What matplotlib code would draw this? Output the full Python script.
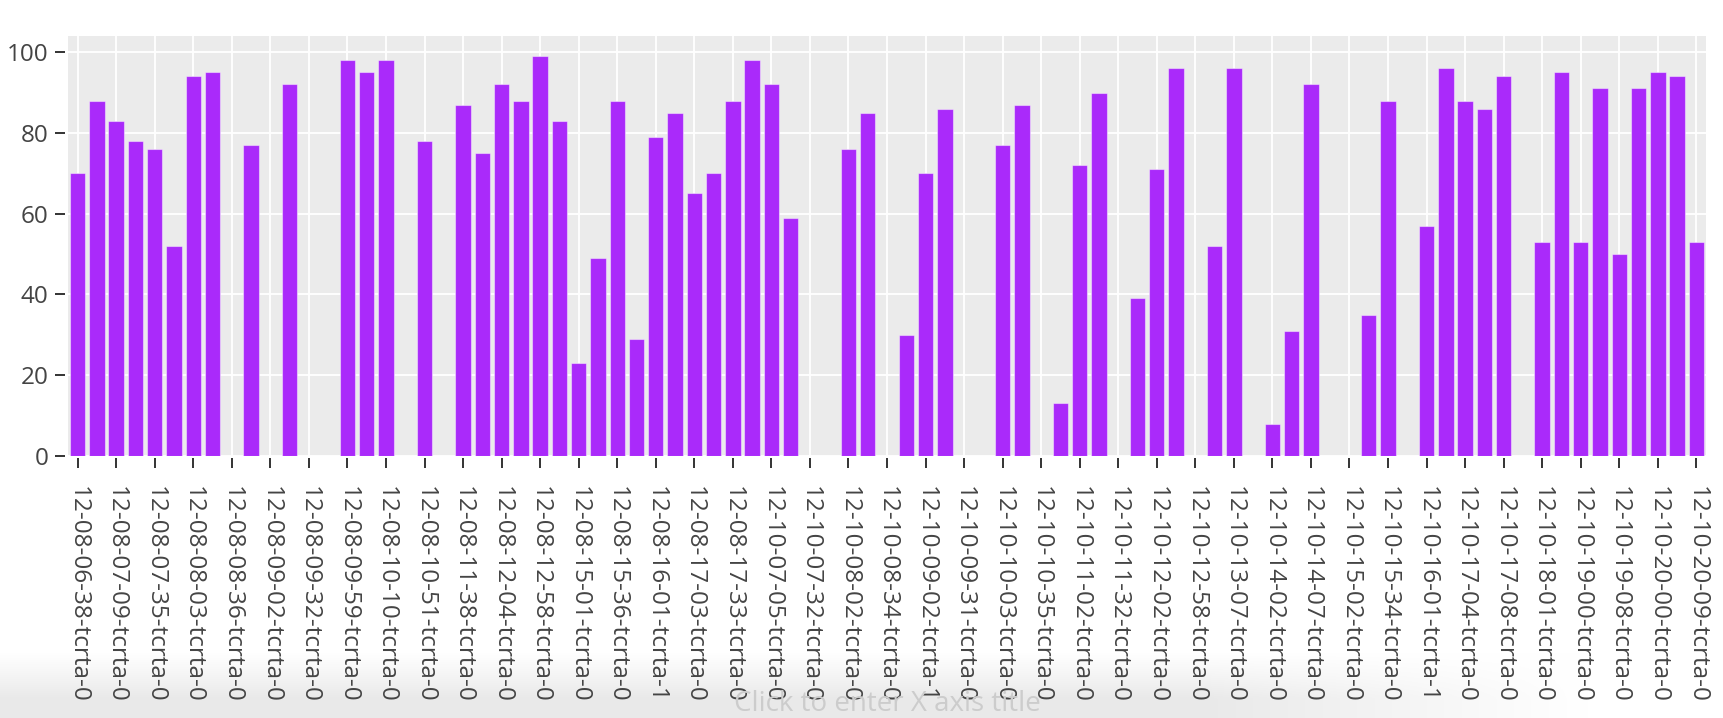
"""Bar chart of scores per run id (plotly-ggplot2 look, redrawn in matplotlib)."""
import numpy as np
import matplotlib
matplotlib.use("Agg")
import matplotlib.pyplot as plt

BAR = "#aa2afa"
PANEL = "#ebebeb"
INK = "#444444"
TICK = "#333333"

plt.rcParams.update({
    "font.family": ["Open Sans", "DejaVu Sans"],
    "font.size": 17.5,
})

# one value per run, None = no bar for that run
values = [
    70, 88, 83, 78, 76, 52, 94, 95, None, 77, None, 92, None, None, 98, 95, 98, None, 78,
    None, 87, 75, 92, 88, 99, 83, 23, 49, 88, 29, 79, 85, 65, 70, 88, 98, 92, 59, None, None, 76, 85,
    None, 30, 70, 86, None, None, 77, 87, None, 13, 72, 90, None, 39, 71, 96, None, 52, 96, None, 8, 31, 92,
    None, None, 35, 88, None, 57, 96, 88, 86, 94, None, 53, 95, 53, 91, 50, 91, 95, 94, 53,
]

# only every second run is labelled on the axis
tick_labels = [
    "12-08-06-38-tcrta-0", "12-08-07-09-tcrta-0", "12-08-07-35-tcrta-0", "12-08-08-03-tcrta-0",
    "12-08-08-36-tcrta-0", "12-08-09-02-tcrta-0", "12-08-09-32-tcrta-0", "12-08-09-59-tcrta-0",
    "12-08-10-10-tcrta-0", "12-08-10-51-tcrta-0", "12-08-11-38-tcrta-0", "12-08-12-04-tcrta-0",
    "12-08-12-58-tcrta-0", "12-08-15-01-tcrta-0", "12-08-15-36-tcrta-0", "12-08-16-01-tcrta-1",
    "12-08-17-03-tcrta-0", "12-08-17-33-tcrta-0", "12-10-07-05-tcrta-0", "12-10-07-32-tcrta-0",
    "12-10-08-02-tcrta-0", "12-10-08-34-tcrta-0", "12-10-09-02-tcrta-1", "12-10-09-31-tcrta-0",
    "12-10-10-03-tcrta-0", "12-10-10-35-tcrta-0", "12-10-11-02-tcrta-0", "12-10-11-32-tcrta-0",
    "12-10-12-02-tcrta-0", "12-10-12-58-tcrta-0", "12-10-13-07-tcrta-0", "12-10-14-02-tcrta-0",
    "12-10-14-07-tcrta-0", "12-10-15-02-tcrta-0", "12-10-15-34-tcrta-0", "12-10-16-01-tcrta-1",
    "12-10-17-04-tcrta-0", "12-10-17-08-tcrta-0", "12-10-18-01-tcrta-0", "12-10-19-00-tcrta-0",
    "12-10-19-08-tcrta-0", "12-10-20-00-tcrta-0", "12-10-20-09-tcrta-0",
]
y_ticks = [0, 20, 40, 60, 80, 100]

W, H = 1724, 718
fig = plt.figure(figsize=(W / 100, H / 100), dpi=100)

# soft grey shadow along the bottom of the screenshot
bg = fig.add_axes([0, 0, 1, 66 / H], zorder=-5)
v = np.linspace(0, 1, 64)[:, None]
v = np.clip(v / 0.7, 0, 1) ** 1.1
h = np.clip((0.92 - np.linspace(0, 1, 400)[None, :]) / 0.22, 0, 1)
shade = 1 - 0.085 * v * h
bg.imshow(np.dstack([shade] * 3), aspect="auto", origin="upper",
          extent=[0, 1, 0, 1], vmin=0, vmax=1)
bg.axis("off")

ax = fig.add_axes([68 / W, 1 - 456 / H, (1706 - 68) / W, (456 - 36) / H], zorder=1)
ax.set_facecolor(PANEL)

x = np.arange(len(values))
heights = np.array([np.nan if v is None else v for v in values], dtype=float)
ax.bar(x, heights, width=0.8, color=BAR, edgecolor=(1, 1, 1, 0.45), linewidth=0.8, zorder=3)

ax.set_xlim(-0.5, len(values) - 0.5)
ax.set_ylim(0, 104)

ax.grid(True, color="white", linewidth=1.3, zorder=0)
ax.set_axisbelow(True)
for side in ("top", "right", "left", "bottom"):
    ax.spines[side].set_visible(False)
for side in ("left", "bottom"):
    ax.spines[side].set_position(("outward", 1.8))
ax.tick_params(axis="x", length=7.5, width=1.4, color=TICK, pad=12,
               labelrotation=-90, labelcolor=INK, labelsize=17.5)
ax.tick_params(axis="y", length=7.5, width=1.4, color=TICK, pad=5,
               labelcolor=INK, labelsize=17.5)

ax.set_xticks(x[::2])
ax.set_xticklabels(tick_labels)
ax.set_yticks(y_ticks)
ax.set_yticklabels([str(t) for t in y_ticks])
for lab in ax.get_xticklabels():
    lab.set_rotation(-90)
    lab.set_ha("center")
    lab.set_va("top")

fig.text(887 / W, 1 - 704 / H, "Click to enter X axis title", ha="center", va="center",
         fontsize=20, color="#cccccc")

fig.savefig("out.png", dpi=100)
